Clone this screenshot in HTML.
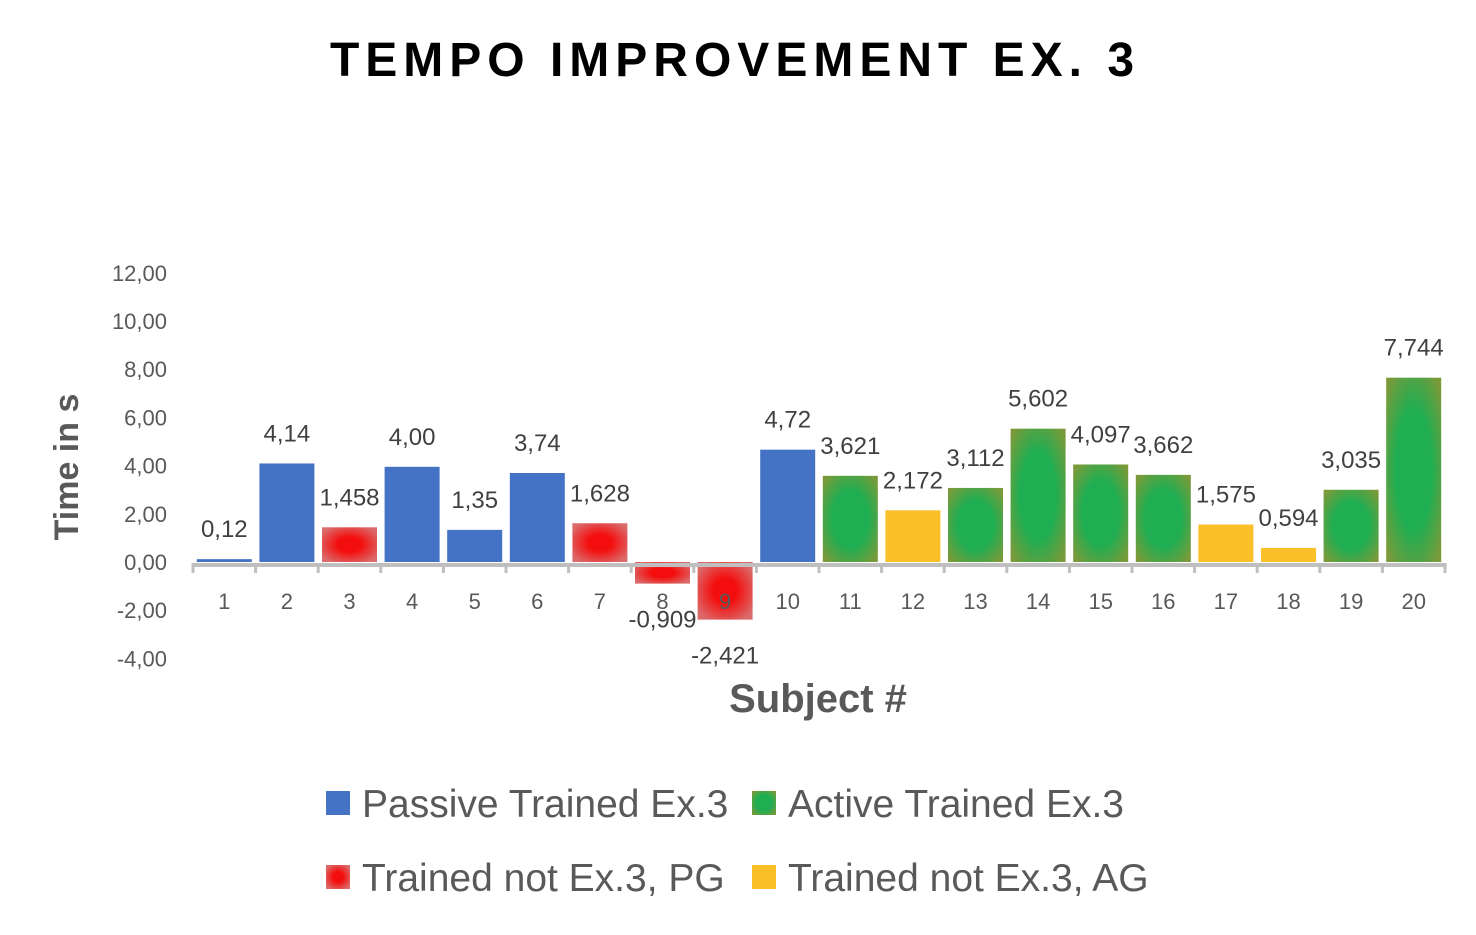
<!DOCTYPE html>
<html><head><meta charset="utf-8"><style>
body{margin:0;background:#fff;}
svg text{font-family:"Liberation Sans",sans-serif;}
</style></head><body>
<svg id="chart" width="1476" height="930" xmlns="http://www.w3.org/2000/svg">
<defs>
<radialGradient id="gRed" cx="50%" cy="50%" r="60%"><stop offset="0.35" stop-color="#f40d0d"/><stop offset="1" stop-color="#db6a6a"/></radialGradient>
<radialGradient id="gGreen" cx="50%" cy="50%" r="65%"><stop offset="0.5" stop-color="#1fae52"/><stop offset="1" stop-color="#7a9a3a"/></radialGradient>
</defs>
<text x="735" y="76" text-anchor="middle" font-size="48" font-weight="bold" letter-spacing="6" fill="#000">TEMPO IMPROVEMENT EX. 3</text>
<text transform="translate(78,467) rotate(-90)" text-anchor="middle" font-size="34" font-weight="bold" fill="#595959">Time in s</text>
<text x="818" y="712" text-anchor="middle" font-size="40" font-weight="bold" fill="#595959">Subject #</text>
<g id="yticks"></g><g id="bars"></g><g id="axis"></g><g id="labels"></g>
<g>
<rect x="326" y="791" width="24" height="24" fill="#4472c4"/>
<text x="362" y="817" font-size="39" fill="#595959">Passive Trained Ex.3</text>
<rect x="752" y="791" width="24" height="24" fill="url(#gGreen)"/>
<text x="788" y="817" font-size="39" fill="#595959">Active Trained Ex.3</text>
<rect x="326" y="865" width="24" height="24" fill="url(#gRed)"/>
<text x="362" y="891" font-size="39" fill="#595959">Trained not Ex.3, PG</text>
<rect x="752" y="865" width="24" height="24" fill="#fbbf2a"/>
<text x="788" y="891" font-size="39" fill="#595959">Trained not Ex.3, AG</text>
</g>
</svg>
<script>
const categories=["1","2","3","4","5","6","7","8","9","10","11","12","13","14","15","16","17","18","19","20"];
const values=[0.12,4.14,1.458,4.00,1.35,3.74,1.628,-0.909,-2.421,4.72,3.621,2.172,3.112,5.602,4.097,3.662,1.575,0.594,3.035,7.744];
const valueLabels=["0,12","4,14","1,458","4,00","1,35","3,74","1,628","-0,909","-2,421","4,72","3,621","2,172","3,112","5,602","4,097","3,662","1,575","0,594","3,035","7,744"];
const groups=["P","P","PG","P","P","P","PG","PG","PG","P","A","AG","A","A","A","A","AG","AG","A","A"];
const yTicks=[-4,-2,0,2,4,6,8,10,12];
const yTickLabels=["-4,00","-2,00","0,00","2,00","4,00","6,00","8,00","10,00","12,00"];
const NS="http://www.w3.org/2000/svg";
const x0=193,x1=1445,band=(x1-x0)/categories.length;
const y=v=>562-v*23.8;
const xc=i=>x0+band*(i+0.5);
const fills={P:"#4472c4",PG:"url(#gRed)",A:"url(#gGreen)",AG:"#fbbf2a"};
function mk(t,a,p,txt){const e=document.createElementNS(NS,t);for(const k in a)e.setAttribute(k,a[k]);if(txt!=null)e.textContent=txt;p.appendChild(e);return e;}
const gy=document.getElementById('yticks');
yTicks.forEach((v,i)=>{const t=mk('text',{x:167,y:562-v*24.1+8,'text-anchor':'end','font-size':22,fill:'#595959'},gy,yTickLabels[i]);

});
const gb=document.getElementById('bars'),gl=document.getElementById('labels');
values.forEach((v,i)=>{const w=55,top=y(Math.max(v,0)),h=Math.abs(y(v)-y(0));
const r=mk('rect',{x:xc(i)-w/2,y:top,width:w,height:h,fill:fills[groups[i]]},gb);


const ly=v>=0?y(v)-22:y(v)+44;
const t=mk('text',{x:xc(i),y:ly,'text-anchor':'middle','font-size':24,fill:'#404040'},gl,valueLabels[i]);


const c=mk('text',{x:xc(i),y:609,'text-anchor':'middle','font-size':22,fill:'#595959'},gl,categories[i]);

});
const ga=document.getElementById('axis');
const ln=mk('line',{x1:x0,x2:x1,y1:565,y2:565,stroke:'#bfbfbf','stroke-width':4},ga);


for(let i=0;i<=categories.length;i++){const tk=mk('line',{x1:x0+band*i,x2:x0+band*i,y1:563,y2:573,stroke:'#bfbfbf','stroke-width':3},ga);

}
</script>
</body></html>
